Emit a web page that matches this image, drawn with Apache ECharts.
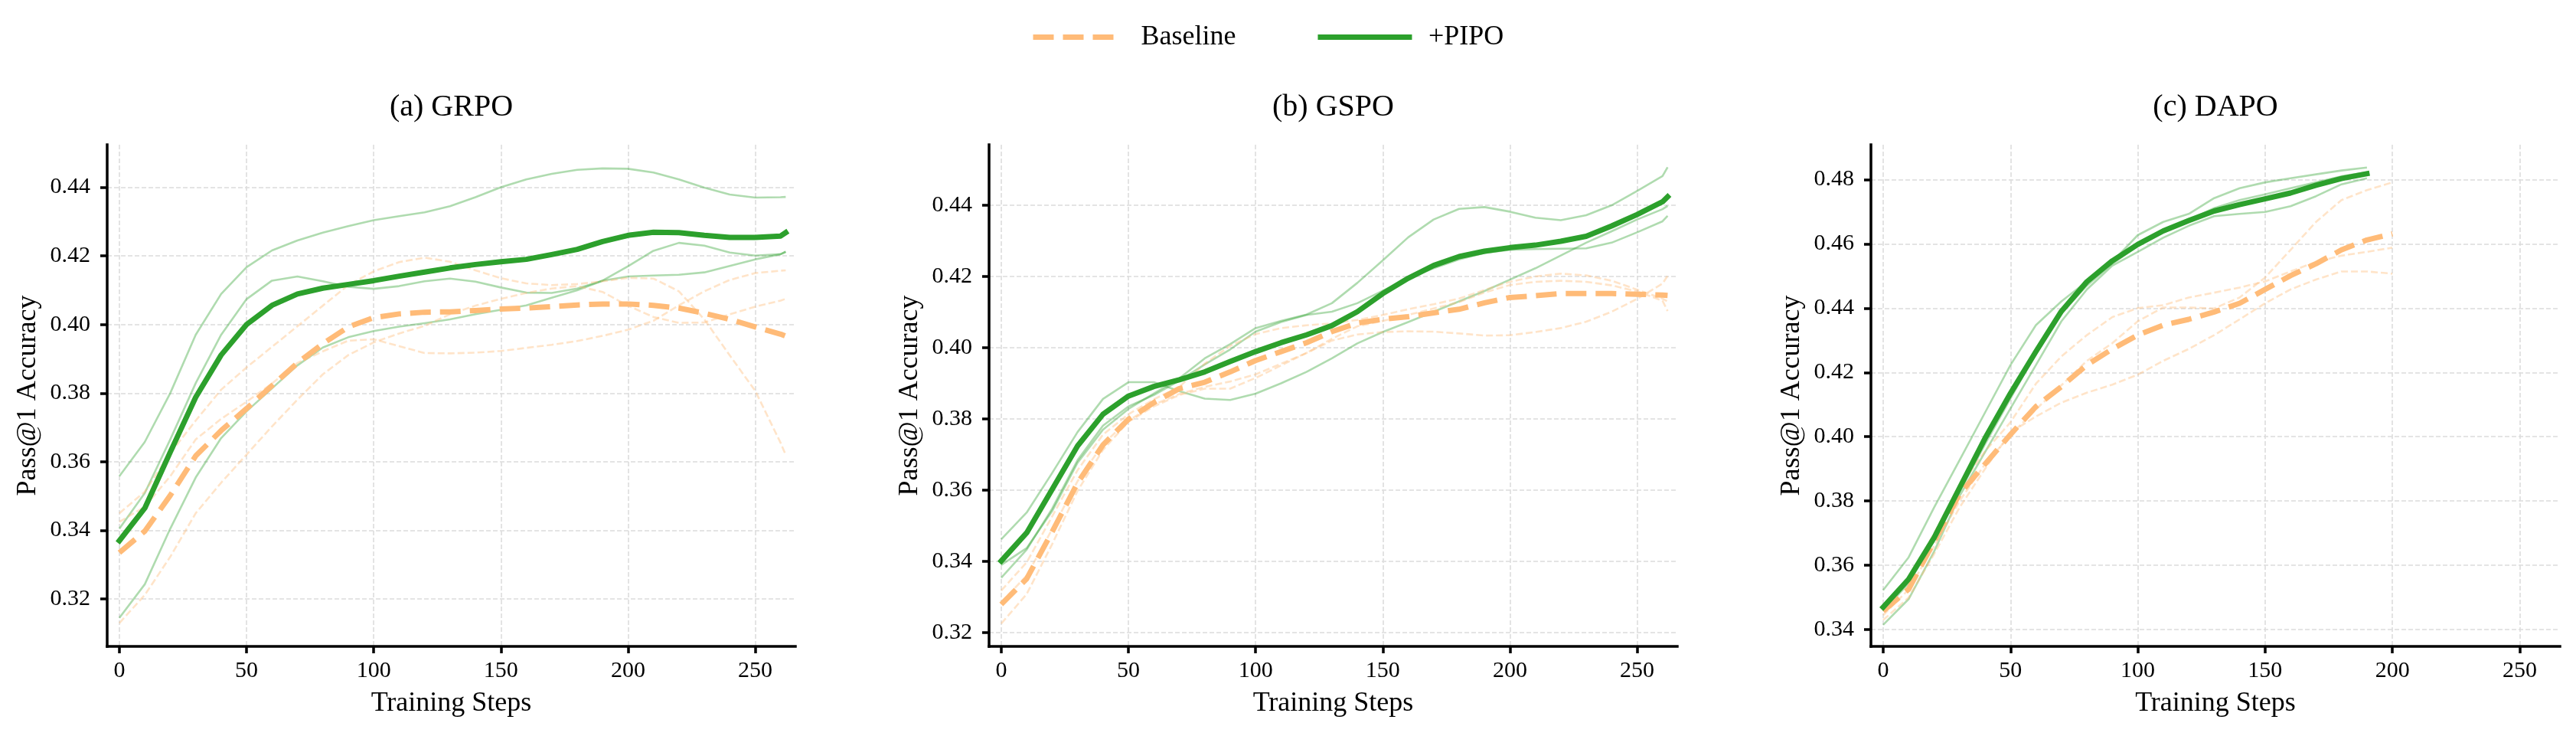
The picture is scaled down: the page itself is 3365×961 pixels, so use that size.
<!DOCTYPE html>
<html>
<head>
<meta charset="utf-8">
<title>Pass@1 accuracy - Baseline vs +PIPO</title>
<script src="https://cdn.jsdelivr.net/npm/echarts@6.0.0/dist/echarts.min.js"></script>
<style>
  html, body { margin: 0; padding: 0; background: #fff; }
  #chart { width: 3365px; height: 961px; }
</style>
</head>
<body>
<div id="chart"></div>
<script>
// training steps (GRPO / GSPO runs go a little past 260)
const steps = [0, 10, 20, 30, 40, 50, 60, 70, 80, 90, 100, 110, 120, 130, 140, 150, 160, 170, 180, 190, 200, 210, 220, 230, 240, 250, 260, 262]
const dapoPipoSteps = [0, 10, 20, 30, 40, 50, 60, 70, 80, 90, 100, 110, 120, 130, 140, 150, 160, 170, 180, 190]
const dapoBaseSteps = [0, 10, 20, 30, 40, 50, 60, 70, 80, 90, 100, 110, 120, 130, 140, 150, 160, 170, 180, 190, 200]

// tick labels
const xTicks = [0, 50, 100, 150, 200, 250]
const grpoTicks = [0.32, 0.34, 0.36, 0.38, 0.40, 0.42, 0.44]
const gspoTicks = [0.32, 0.34, 0.36, 0.38, 0.40, 0.42, 0.44]
const dapoTicks = [0.34, 0.36, 0.38, 0.40, 0.42, 0.44, 0.46, 0.48]

// (a) GRPO
const grpoPipo = [0.337, 0.3465, 0.3628, 0.3788, 0.3911, 0.400, 0.4056, 0.4089, 0.4106, 0.4117, 0.4128, 0.4141, 0.4153, 0.4165, 0.4175, 0.4183, 0.419, 0.4204, 0.4219, 0.4242, 0.426, 0.4269, 0.4268, 0.426, 0.4254, 0.4254, 0.4258, 0.4268]
const grpoBase = [0.3335, 0.3398, 0.3502, 0.3617, 0.3691, 0.3755, 0.3822, 0.3888, 0.3944, 0.3993, 0.402, 0.4031, 0.4036, 0.4037, 0.4041, 0.4045, 0.4048, 0.4052, 0.4057, 0.406, 0.406, 0.4056, 0.4048, 0.4033, 0.4015, 0.3993, 0.3972, 0.3966]
const grpoPipoRun1 = [0.3558, 0.3658, 0.380, 0.397, 0.4089, 0.4167, 0.4216, 0.4245, 0.4268, 0.4287, 0.4304, 0.4316, 0.4327, 0.4345, 0.4371, 0.440, 0.4423, 0.4439, 0.4451, 0.4455, 0.4454, 0.4443, 0.4423, 0.4399, 0.4379, 0.437, 0.4371, 0.4372]
const grpoPipoRun2 = [0.3405, 0.3509, 0.3665, 0.3829, 0.397, 0.4074, 0.4128, 0.414, 0.4126, 0.411, 0.4104, 0.4112, 0.4126, 0.4134, 0.4125, 0.4108, 0.4093, 0.4092, 0.4105, 0.4128, 0.417, 0.4215, 0.4238, 0.423, 0.421, 0.4201, 0.4205, 0.4212]
const grpoPipoRun3 = [0.3145, 0.3243, 0.3405, 0.3554, 0.3669, 0.3747, 0.3814, 0.3881, 0.3933, 0.3963, 0.3981, 0.3994, 0.4004, 0.4015, 0.403, 0.4043, 0.4056, 0.4078, 0.410, 0.4128, 0.414, 0.4143, 0.4145, 0.4152, 0.4171, 0.419, 0.4205, 0.4212]
const grpoBaseRun1 = [0.345, 0.3513, 0.3625, 0.372, 0.381, 0.3875, 0.3935, 0.3995, 0.4055, 0.4115, 0.4155, 0.4182, 0.4195, 0.4183, 0.4158, 0.4135, 0.412, 0.4115, 0.4118, 0.4126, 0.4136, 0.4134, 0.4097, 0.4015, 0.391, 0.3807, 0.3655, 0.362]
const grpoBaseRun2 = [0.3425, 0.3469, 0.3558, 0.3665, 0.3725, 0.3775, 0.3828, 0.3888, 0.3922, 0.3953, 0.3957, 0.3937, 0.3917, 0.3916, 0.3918, 0.3923, 0.3932, 0.3941, 0.3952, 0.3967, 0.3985, 0.4011, 0.4056, 0.4097, 0.413, 0.415, 0.4157, 0.4158]
const grpoBaseRun3 = [0.313, 0.3212, 0.3323, 0.345, 0.3539, 0.3621, 0.3703, 0.3781, 0.3855, 0.3911, 0.3948, 0.3974, 0.3996, 0.403, 0.4055, 0.4075, 0.4092, 0.4105, 0.4112, 0.4095, 0.4055, 0.4022, 0.4005, 0.4006, 0.403, 0.4052, 0.407, 0.4075]

// (b) GSPO
const gspoPipo = [0.3401, 0.348, 0.3602, 0.3724, 0.3813, 0.3864, 0.3891, 0.391, 0.3932, 0.3961, 0.3989, 0.4014, 0.4036, 0.4062, 0.4101, 0.4152, 0.4195, 0.4231, 0.4256, 0.4271, 0.4281, 0.4288, 0.4299, 0.4313, 0.4342, 0.4374, 0.441, 0.4424]
const gspoBase = [0.3279, 0.3351, 0.3483, 0.362, 0.3727, 0.3799, 0.3846, 0.3885, 0.3903, 0.3932, 0.3964, 0.3989, 0.4014, 0.4045, 0.4069, 0.408, 0.4087, 0.4098, 0.4108, 0.4126, 0.4141, 0.4146, 0.4152, 0.4152, 0.4152, 0.415, 0.4148, 0.4147]
const gspoPipoRun1 = [0.339, 0.3437, 0.3541, 0.3677, 0.377, 0.3828, 0.3871, 0.3914, 0.397, 0.401, 0.4055, 0.4075, 0.4093, 0.4125, 0.4182, 0.4245, 0.431, 0.436, 0.439, 0.4395, 0.4382, 0.4365, 0.4358, 0.4372, 0.440, 0.444, 0.4482, 0.4507]
const gspoPipoRun2 = [0.3354, 0.3433, 0.3548, 0.3684, 0.3781, 0.3835, 0.3867, 0.3907, 0.3953, 0.3995, 0.4045, 0.4072, 0.4092, 0.4101, 0.4125, 0.416, 0.4195, 0.4223, 0.4248, 0.4266, 0.4275, 0.4277, 0.4278, 0.4279, 0.4295, 0.4324, 0.4355, 0.437]
const gspoPipoRun3 = [0.3462, 0.3537, 0.3648, 0.3763, 0.3856, 0.3903, 0.3903, 0.3878, 0.3857, 0.3853, 0.3871, 0.390, 0.3932, 0.397, 0.4012, 0.4044, 0.4072, 0.4101, 0.413, 0.4159, 0.4191, 0.4223, 0.4259, 0.4295, 0.4327, 0.436, 0.4389, 0.4398]
const gspoBaseRun1 = [0.3318, 0.3397, 0.3526, 0.3656, 0.3756, 0.3813, 0.3855, 0.389, 0.3955, 0.4005, 0.4038, 0.4055, 0.4063, 0.4068, 0.4078, 0.4092, 0.4108, 0.4122, 0.4138, 0.4162, 0.4185, 0.420, 0.4208, 0.4203, 0.4188, 0.4163, 0.4138, 0.413]
const gspoBaseRun2 = [0.3285, 0.336, 0.349, 0.3625, 0.373, 0.3795, 0.384, 0.387, 0.389, 0.3905, 0.3925, 0.3955, 0.3985, 0.4025, 0.406, 0.4075, 0.4092, 0.411, 0.4128, 0.4155, 0.4176, 0.4185, 0.4188, 0.4185, 0.4175, 0.4158, 0.4132, 0.4103]
const gspoBaseRun3 = [0.3225, 0.3308, 0.3448, 0.3598, 0.3713, 0.3792, 0.3835, 0.3867, 0.3885, 0.3885, 0.3915, 0.395, 0.3985, 0.402, 0.4037, 0.4044, 0.4046, 0.4045, 0.404, 0.4034, 0.4035, 0.4044, 0.4055, 0.4073, 0.4101, 0.4137, 0.418, 0.4202]

// (c) DAPO
const dapoPipo = [0.347, 0.3557, 0.3686, 0.3841, 0.3995, 0.4135, 0.4265, 0.439, 0.4482, 0.4547, 0.4598, 0.464, 0.4672, 0.4702, 0.4722, 0.474, 0.4758, 0.4782, 0.4803, 0.4818]
const dapoBase = [0.3458, 0.3526, 0.3674, 0.3822, 0.3915, 0.4007, 0.4094, 0.4156, 0.4223, 0.4273, 0.4316, 0.4347, 0.4365, 0.4388, 0.4415, 0.4458, 0.4501, 0.4538, 0.4581, 0.4612, 0.4631]
const dapoPipoRun1 = [0.3523, 0.3625, 0.378, 0.3927, 0.4075, 0.4223, 0.4347, 0.4421, 0.4483, 0.4544, 0.4627, 0.4668, 0.4693, 0.4742, 0.4773, 0.4791, 0.4804, 0.4816, 0.4828, 0.4837]
const dapoPipoRun2 = [0.3415, 0.3495, 0.3643, 0.3816, 0.3952, 0.4088, 0.4223, 0.4359, 0.4458, 0.4532, 0.4575, 0.4619, 0.4656, 0.4686, 0.4693, 0.4699, 0.4717, 0.4748, 0.4785, 0.4804]
const dapoPipoRun3 = [0.3458, 0.3544, 0.368, 0.3828, 0.3977, 0.4119, 0.426, 0.4384, 0.447, 0.4538, 0.4594, 0.4637, 0.4674, 0.4711, 0.4736, 0.4754, 0.4773, 0.4791, 0.481, 0.4822]
const dapoBaseRun1 = [0.3445, 0.3525, 0.366, 0.380, 0.3915, 0.4005, 0.4085, 0.416, 0.4236, 0.4291, 0.4359, 0.4402, 0.4402, 0.4399, 0.4433, 0.4495, 0.4581, 0.4668, 0.4736, 0.4767, 0.4791]
const dapoBaseRun2 = [0.3475, 0.3555, 0.370, 0.3845, 0.3955, 0.4045, 0.4165, 0.425, 0.4316, 0.4372, 0.440, 0.4409, 0.4433, 0.4448, 0.4464, 0.4483, 0.4514, 0.4544, 0.4563, 0.4575, 0.4588]
const dapoBaseRun3 = [0.343, 0.350, 0.3635, 0.378, 0.390, 0.4013, 0.4063, 0.4106, 0.4137, 0.4162, 0.4193, 0.4236, 0.4273, 0.4316, 0.4365, 0.4415, 0.4458, 0.4489, 0.4514, 0.4514, 0.4507]

const GREEN = '#2ca02c'
const GREEN_LIGHT = 'rgba(44,160,44,0.38)'
const ORANGE = '#ffbb78'
const ORANGE_LIGHT = 'rgba(255,187,120,0.4)'
const FONT = '"Liberation Serif", "Times New Roman", serif'
const MAIN_DASH = [27, 12]
const RUN_DASH = [9, 4]

// one entry per subplot: layout + which arrays go in it
const panels = [
  {
    title: '(a) GRPO', left: 140, width: 899, yMin: 0.3062, yMax: 0.4524, yTicks: grpoTicks,
    pipoX: steps, baseX: steps, pipo: grpoPipo, base: grpoBase,
    pipoRuns: [grpoPipoRun1, grpoPipoRun2, grpoPipoRun3], baseRuns: [grpoBaseRun1, grpoBaseRun2, grpoBaseRun3]
  },
  {
    title: '(b) GSPO', left: 1292, width: 899, yMin: 0.3161, yMax: 0.457, yTicks: gspoTicks,
    pipoX: steps, baseX: steps, pipo: gspoPipo, base: gspoBase,
    pipoRuns: [gspoPipoRun1, gspoPipoRun2, gspoPipoRun3], baseRuns: [gspoBaseRun1, gspoBaseRun2, gspoBaseRun3]
  },
  {
    title: '(c) DAPO', left: 2444, width: 900, yMin: 0.3348, yMax: 0.4908, yTicks: dapoTicks,
    pipoX: dapoPipoSteps, baseX: dapoBaseSteps, pipo: dapoPipo, base: dapoBase,
    pipoRuns: [dapoPipoRun1, dapoPipoRun2, dapoPipoRun3], baseRuns: [dapoBaseRun1, dapoBaseRun2, dapoBaseRun3]
  }
]
const GRID_TOP = 189
const GRID_HEIGHT = 655

const pairs = (xs, ys) => ys.map((y, i) => [xs[i], y])

const axisLine = { show: true, onZero: false, lineStyle: { color: '#000', width: 3.5, cap: 'square' } }
const axisTick = (vals) => ({ show: true, inside: false, length: 9, customValues: vals, lineStyle: { color: '#000', width: 3.5 } })
const gridLine = { show: true, lineStyle: { color: '#dcdcdc', width: 1.6, type: [6, 3] } }

const grids = [], xAxes = [], yAxes = [], series = [], graphics = []

panels.forEach((p, i) => {
  grids.push({ left: p.left, top: GRID_TOP, width: p.width, height: GRID_HEIGHT, containLabel: false })

  xAxes.push({
    gridIndex: i, type: 'value', min: -4.8, max: 265.8,
    axisLine, axisTick: axisTick(xTicks), splitLine: gridLine,
    axisLabel: { customValues: xTicks, fontSize: 30, color: '#000', fontFamily: FONT, margin: 17 },
    name: 'Training Steps', nameLocation: 'middle', nameGap: 57,
    nameTextStyle: { fontSize: 36, color: '#000', fontFamily: FONT }
  })

  yAxes.push({
    gridIndex: i, type: 'value', min: p.yMin, max: p.yMax,
    axisLine, axisTick: axisTick(p.yTicks), splitLine: gridLine,
    axisLabel: { customValues: p.yTicks, formatter: v => v.toFixed(2), fontSize: 30, color: '#000', fontFamily: FONT, margin: 22 },
    name: 'Pass@1 Accuracy', nameLocation: 'middle', nameGap: 85,
    nameTextStyle: { fontSize: 36, color: '#000', fontFamily: FONT }
  })

  // faint individual runs first
  p.pipoRuns.forEach((run, k) => {
    series.push({
      name: 'pipo-run-' + i + '-' + k, type: 'line', xAxisIndex: i, yAxisIndex: i,
      data: pairs(p.pipoX, run), symbol: 'none', silent: true, z: 2, color: GREEN_LIGHT,
      lineStyle: { color: GREEN_LIGHT, width: 2.6, join: 'round' }
    })
  })
  p.baseRuns.forEach((run, k) => {
    series.push({
      name: 'base-run-' + i + '-' + k, type: 'line', xAxisIndex: i, yAxisIndex: i,
      data: pairs(p.baseX, run), symbol: 'none', silent: true, z: 2, color: ORANGE_LIGHT,
      lineStyle: { color: ORANGE_LIGHT, width: 2.6, type: RUN_DASH, join: 'round' }
    })
  })

  // mean curves on top
  series.push({
    name: 'Baseline', type: 'line', xAxisIndex: i, yAxisIndex: i,
    data: pairs(p.baseX, p.base), symbol: 'none', silent: true, z: 3, color: ORANGE,
    lineStyle: { color: ORANGE, width: 7, type: MAIN_DASH, join: 'round' }
  })
  series.push({
    name: '+PIPO', type: 'line', xAxisIndex: i, yAxisIndex: i,
    data: pairs(p.pipoX, p.pipo), symbol: 'none', silent: true, z: 4, color: GREEN,
    lineStyle: { color: GREEN, width: 7, join: 'round', cap: 'square' }
  })

  graphics.push({
    type: 'text', x: p.left + p.width / 2, y: 140, silent: true,
    style: { text: p.title, fontSize: 40, fontFamily: FONT, fill: '#000', align: 'center', verticalAlign: 'middle' }
  })
})

const chart = echarts.init(document.getElementById('chart'), null, { renderer: 'canvas' })
chart.setOption({
  animation: false,
  backgroundColor: '#fff',
  textStyle: { fontFamily: FONT },
  legend: {
    // line-only legend handles: hide the marker dot, keep the thick (dashed) stroke
    data: [
      { name: 'Baseline', itemStyle: { opacity: 0 }, lineStyle: { color: ORANGE, width: 7, type: MAIN_DASH, opacity: 1 } },
      { name: '+PIPO', itemStyle: { opacity: 0 }, lineStyle: { color: GREEN, width: 7, type: 'solid', opacity: 1 } }
    ],
    left: 1346, top: 30.5, padding: 0,
    itemWidth: 116, itemHeight: 14, itemGap: 107, selectedMode: false,
    textStyle: { fontSize: 36, color: '#000', fontFamily: FONT, padding: [0, 0, 0, 20] }
  },
  grid: grids,
  xAxis: xAxes,
  yAxis: yAxes,
  series: series,
  graphic: graphics
})
</script>
</body>
</html>
